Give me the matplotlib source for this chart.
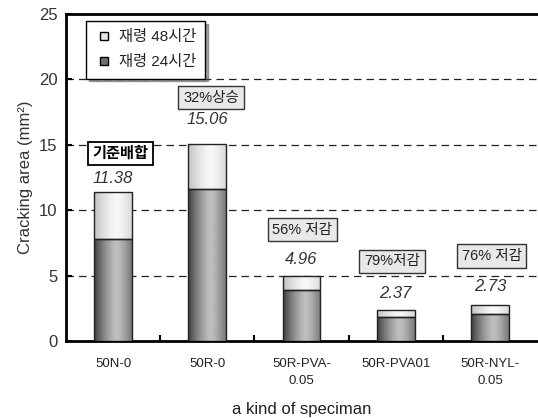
import matplotlib
matplotlib.use("Agg")
import matplotlib.pyplot as plt
import numpy as np
from matplotlib.lines import Line2D

plt.rcParams['font.family'] = ['Liberation Sans', 'Noto Sans CJK KR', 'DejaVu Sans']

categories = ["50N-0", "50R-0", "50R-PVA-\n0.05", "50R-PVA01", "50R-NYL-\n0.05"]
age24 = [7.8, 11.6, 3.9, 1.85, 2.1]
total48 = [11.38, 15.06, 4.96, 2.37, 2.73]
value_labels = ["11.38", "15.06", "4.96", "2.37", "2.73"]
label_y = [12.4, 16.9, 6.2, 3.6, 4.2]
notes = ["기준배합", "32%상승", "56% 저감", "79%저감", "76% 저감"]
note_x = [0.08, 1.04, 2.01, 2.96, 4.02]
note_y = [14.3, 18.6, 8.5, 6.1, 6.5]
legend_labels = ["재령 48시간", "재령 24시간"]
yticks = [0, 5, 10, 15, 20, 25]

fig = plt.figure(figsize=(5.38, 4.18), dpi=100)
ax = fig.add_axes([66/538, 77/418, 471/538, 327/418])

x = np.arange(len(categories))
upper = [t - b for t, b in zip(total48, age24)]
width = 0.4

def gradient(edge, mid):
    t = np.linspace(0, 1, 64)
    prof = 1 - np.abs((t - 0.6) / 0.6) ** 1.4
    prof = np.clip(prof, 0, 1)
    g = edge + (mid - edge) * prof
    return np.tile(g, (2, 1))

g_dark = gradient(0.25, 0.75)
g_light = gradient(0.76, 0.97)

bars_lo = ax.bar(x, age24, width, color='none', edgecolor='#222222', linewidth=1.0, zorder=4)
bars_hi = ax.bar(x, upper, width, bottom=age24, color='none', edgecolor='#222222', linewidth=1.0, zorder=4)

for bars, g in ((bars_lo, g_dark), (bars_hi, g_light)):
    for p in bars:
        x0, y0 = p.get_x(), p.get_y()
        im = ax.imshow(g, cmap='gray', vmin=0, vmax=1, aspect='auto',
                       extent=[x0, x0 + p.get_width(), y0, y0 + p.get_height()],
                       zorder=3, interpolation='bilinear')
        im.set_clip_path(p)

for xi, ly, lab in zip(x, label_y, value_labels):
    ax.text(xi, ly, lab, ha='center', va='center', fontsize=12,
            style='italic', color='#333333', zorder=6)

for i, (nx, ny, txt) in enumerate(zip(note_x, note_y, notes)):
    if i == 0:
        ax.text(nx, ny, txt, ha='center', va='center', fontsize=11, fontweight='bold',
                color='black', zorder=6,
                bbox=dict(boxstyle='square,pad=0.28', facecolor='white', edgecolor='black', linewidth=1.3))
    else:
        ax.text(nx, ny, txt, ha='center', va='center', fontsize=10.5, color='#222222', zorder=6,
                bbox=dict(boxstyle='square,pad=0.32', facecolor='#e8e8e8', edgecolor='#333333', linewidth=1.0))

ax.set_xlim(-0.5, len(categories) - 0.5)
ax.set_ylim(0, 25)
ax.set_yticks(yticks)
ax.set_yticklabels([str(v) for v in yticks], fontsize=12, color='#333333')
for v in yticks[1:-1]:
    ax.axhline(v, color='#222222', linestyle=(0, (6, 4)), linewidth=0.9, zorder=1)

ax.set_xticks(x)
ax.set_xticklabels(categories, fontsize=9.5, color='#222222', linespacing=1.6)
ax.tick_params(axis='x', length=0, pad=12)
ax.set_xticks(np.arange(0.5, len(categories) - 0.5), minor=True)
ax.tick_params(axis='x', which='minor', direction='in', length=4, width=1.5)
ax.tick_params(axis='y', direction='in', length=4, width=1.5, pad=6)

for s in ['left', 'bottom', 'top']:
    ax.spines[s].set_linewidth(2)
    ax.spines[s].set_color('black')
ax.spines['right'].set_visible(False)

ax.set_ylabel("Cracking area (mm²)", fontsize=12, color='#333333', labelpad=4)
ax.set_xlabel("a kind of speciman", fontsize=12, color='#222222', labelpad=11)

handles = [Line2D([], [], marker='s', linestyle='none', markersize=6,
                  markerfacecolor='#e6e6e6', markeredgecolor='black'),
           Line2D([], [], marker='s', linestyle='none', markersize=6,
                  markerfacecolor='#707070', markeredgecolor='black')]
leg = ax.legend(handles, legend_labels, loc='upper left', bbox_to_anchor=(0.042, 0.979),
                borderaxespad=0,
                fontsize=11, frameon=True, fancybox=False, shadow=True, edgecolor='black',
                handletextpad=0.35, handlelength=1.2, borderpad=0.6, labelspacing=0.75)
leg.get_frame().set_linewidth(1.0)
for t in leg.get_texts():
    t.set_color('#222222')

fig.savefig("out.png", dpi=100)
